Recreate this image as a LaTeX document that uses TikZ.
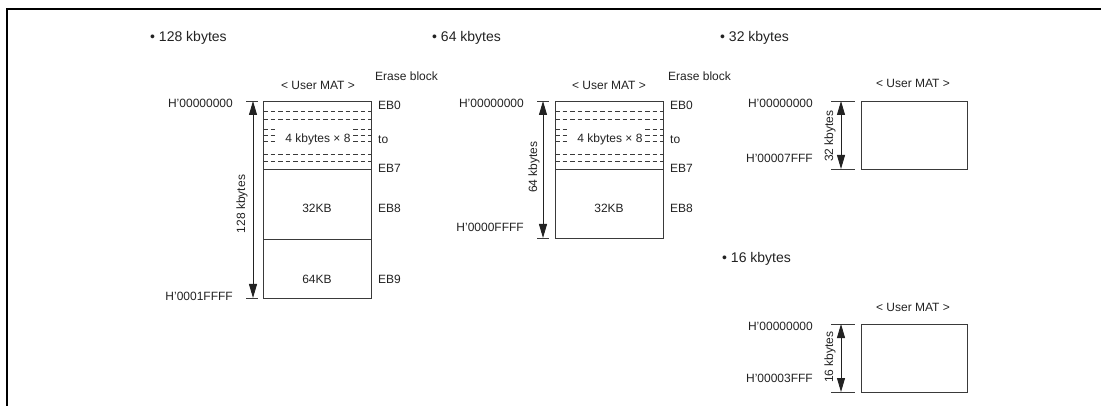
\documentclass[tikz,border=0pt]{standalone}
\usepackage{fontspec}
\setmainfont{Liberation Sans}
\usetikzlibrary{arrows.meta,calc}
\definecolor{ink}{HTML}{222222}
\definecolor{linec}{HTML}{3A3A3A}
\begin{document}
\begin{tikzpicture}[x=1pt,y=-1pt,
  lbl/.style={font=\fontsize{12}{14}\selectfont, text=ink, inner sep=0pt, text height=8.6pt, text depth=0pt},
  rlbl/.style={lbl, rotate=90, text depth=2.4pt},
  ttl/.style={font=\fontsize{14}{16}\selectfont, text=ink, inner sep=0pt, text height=10pt, text depth=0pt, anchor=west},
  blk/.style={draw=linec, line width=1.1pt, inner sep=0pt, anchor=north west, minimum width=108pt},
  sblk/.style={draw=linec, line width=1.1pt, inner sep=0pt, anchor=north west, minimum width=106pt},
  dsh/.style={draw=linec, line width=0.7pt, dash pattern=on 4.5pt off 3pt},
  tick/.style={draw=linec, line width=0.8pt},
  dim/.style={draw=ink, line width=0.9pt, {Triangle[length=14pt,width=8pt]}-{Triangle[length=14pt,width=8pt]}, shorten <=0pt, shorten >=0pt}
]
\useasboundingbox (0,0) rectangle (1101,406);
\draw[line width=2.5pt] (7,406) -- (7,9) -- (1101,9);

% ---------- titles ----------
\node[ttl] (t1) at (150,37) {• 128 kbytes};
\node[ttl] (t2) at (432,37) {• 64 kbytes};
\node[ttl] (t3) at (720,37) {• 32 kbytes};
\node[ttl] (t4) at (722,258) {• 16 kbytes};

% ---------- panel 1: 128 kbytes ----------
\node[blk, minimum height=68pt] (a1) at (263,101) {};
\node[blk, minimum height=70pt] (b1) at (263,169) {};
\node[blk, minimum height=59pt] (c1) at (263,239) {};
\foreach \yy in {111,119,154,161.5}{\draw[dsh] (263,\yy) -- (371,\yy);}
\foreach \yy in {129,135,141.5}{\draw[dsh] (263,\yy) -- (278,\yy); \draw[dsh] (353,\yy) -- (371,\yy);}
\node[lbl] (a1t) at (318,138) {4 kbytes × 8};
\node[lbl] (b1t) at (317,208) {32KB};
\node[lbl] (c1t) at (317,279) {64KB};
\node[lbl] (um1) at (318,85) {< User MAT >};
\node[lbl, anchor=west] (eb1) at (375,76) {Erase block};
\node[lbl, anchor=west] (e10) at (378,105) {EB0};
\node[lbl, anchor=west] (e1to) at (378,139) {to};
\node[lbl, anchor=west] (e17) at (378,168) {EB7};
\node[lbl, anchor=west] (e18) at (378,208) {EB8};
\node[lbl, anchor=west] (e19) at (378,279) {EB9};
\node[lbl, anchor=east] (h1a) at (233,103) {H'00000000};
\node[lbl, anchor=east] (h1b) at (233,296) {H'0001FFFF};
\coordinate (k1a) at (246,101); \coordinate (k1b) at (258,101);
\coordinate (k1c) at (246,298); \coordinate (k1d) at (258,298);
\coordinate (d1a) at (253,101); \coordinate (d1b) at (253,298);
\draw[tick] (k1a) -- (k1b); \draw[tick] (k1c) -- (k1d);
\draw[dim] (d1a) -- (d1b);
\node[rlbl] (r1) at (242,204) {128 kbytes};

% ---------- panel 2: 64 kbytes ----------
\node[blk, minimum height=68pt] (a2) at (555,101) {};
\node[blk, minimum height=69pt] (b2) at (555,169) {};
\foreach \yy in {111,119,154,161.5}{\draw[dsh] (555,\yy) -- (663,\yy);}
\foreach \yy in {129,135,141.5}{\draw[dsh] (555,\yy) -- (570,\yy); \draw[dsh] (645,\yy) -- (663,\yy);}
\node[lbl] (a2t) at (610,138) {4 kbytes × 8};
\node[lbl] (b2t) at (609,208) {32KB};
\node[lbl] (um2) at (609,85) {< User MAT >};
\node[lbl, anchor=west] (eb2) at (668,76) {Erase block};
\node[lbl, anchor=west] (e20) at (670,105) {EB0};
\node[lbl, anchor=west] (e2to) at (670,139) {to};
\node[lbl, anchor=west] (e27) at (670,168) {EB7};
\node[lbl, anchor=west] (e28) at (670,208) {EB8};
\node[lbl, anchor=east] (h2a) at (524,103) {H'00000000};
\node[lbl, anchor=east] (h2b) at (524,227) {H'0000FFFF};
\coordinate (k2a) at (537,101); \coordinate (k2b) at (549,101);
\coordinate (k2c) at (537,238); \coordinate (k2d) at (549,238);
\coordinate (d2a) at (543,101); \coordinate (d2b) at (543,238);
\draw[tick] (k2a) -- (k2b); \draw[tick] (k2c) -- (k2d);
\draw[dim] (d2a) -- (d2b);
\node[rlbl] (r2) at (534,167) {64 kbytes};

% ---------- panel 3: 32 kbytes ----------
\node[sblk, minimum height=68pt] (a3) at (861,101) {};
\node[lbl] (um3) at (913,83) {< User MAT >};
\node[lbl, anchor=east] (h3a) at (813,103) {H'00000000};
\node[lbl, anchor=east] (h3b) at (813,158) {H'00007FFF};
\coordinate (k3a) at (831,101); \coordinate (k3b) at (855,101);
\coordinate (k3c) at (831,169); \coordinate (k3d) at (855,169);
\coordinate (d3a) at (841,101); \coordinate (d3b) at (841,169);
\draw[tick] (k3a) -- (k3b); \draw[tick] (k3c) -- (k3d);
\draw[dim] (d3a) -- (d3b);
\node[rlbl] (r3) at (830,136) {32 kbytes};

% ---------- panel 4: 16 kbytes ----------
\node[sblk, minimum height=68pt] (a4) at (861,324) {};
\node[lbl] (um4) at (913,307) {< User MAT >};
\node[lbl, anchor=east] (h4a) at (813,326) {H'00000000};
\node[lbl, anchor=east] (h4b) at (813,378) {H'00003FFF};
\coordinate (k4a) at (831,324); \coordinate (k4b) at (855,324);
\coordinate (k4c) at (831,392); \coordinate (k4d) at (855,392);
\coordinate (d4a) at (841,324); \coordinate (d4b) at (841,392);
\draw[tick] (k4a) -- (k4b); \draw[tick] (k4c) -- (k4d);
\draw[dim] (d4a) -- (d4b);
\node[rlbl] (r4) at (830,357) {16 kbytes};
\end{tikzpicture}
\end{document}
